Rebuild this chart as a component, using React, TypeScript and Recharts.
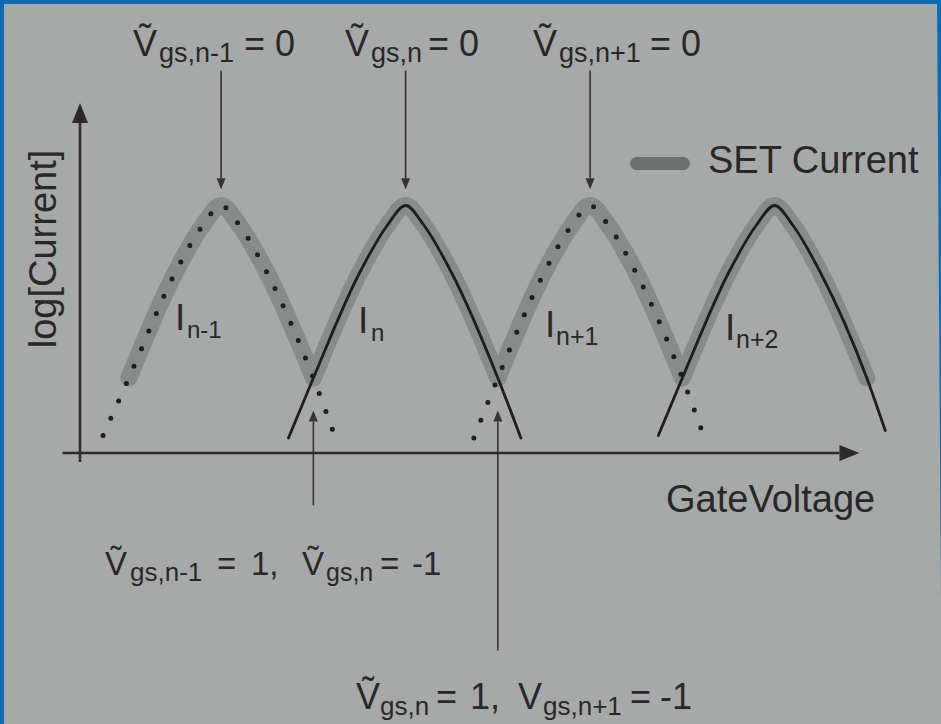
import React from 'react';
import { LineChart, Line, XAxis, YAxis, ReferenceLine, Legend } from 'recharts';

// Gate voltage (arbitrary units) and log[Current] for each single-electron current branch
const gateVoltageNm1 = [-0.28, 0, 0.5, 0.8, 1, 1.2, 1.5, 2, 2.24];
const logCurrentNm1 = [0.7, 3.0, 7.2, 9.1, 9.9, 9.1, 7.2, 3.0, 0.6];
const gateVoltageN = [1.73, 2, 2.5, 2.8, 3, 3.2, 3.5, 4, 4.25];
const logCurrentN = [0.6, 3.0, 7.2, 9.1, 9.9, 9.1, 7.2, 3.0, 0.6];
const gateVoltageNp1 = [3.74, 4, 4.5, 4.8, 5, 5.2, 5.5, 6, 6.24];
const logCurrentNp1 = [0.6, 3.0, 7.2, 9.1, 9.9, 9.1, 7.2, 3.0, 0.6];
const gateVoltageNp2 = [5.74, 6, 6.5, 6.8, 7, 7.2, 7.5, 8, 8.2];
const logCurrentNp2 = [0.7, 3.0, 7.2, 9.1, 9.9, 9.1, 7.2, 3.0, 0.9];

// Peak positions (Vgs = 0 of each branch) and crossing points between branches
const peakVoltages = [1, 3, 5, 7];
const crossingVoltages = [2, 4];
const branchNames = ['I n-1', 'I n', 'I n+1', 'I n+2'];
const branchDotted = [true, false, true, false];

const X_DOMAIN: [number, number] = [-0.53, 8.36];
const Y_DOMAIN: [number, number] = [0, 14];

const INK = '#282828';
const FONT = '"Liberation Sans", Arial, Helvetica, "DejaVu Sans", sans-serif';
const SET_GREY = '#878b89';

const toPoints = (v: number[], y: number[]) => v.map((x, i) => ({ v: x, logI: y[i] }));

const branches = [
  toPoints(gateVoltageNm1, logCurrentNm1),
  toPoints(gateVoltageN, logCurrentN),
  toPoints(gateVoltageNp1, logCurrentNp1),
  toPoints(gateVoltageNp2, logCurrentNp2),
];

// The SET current follows each branch between its two neighbouring crossings
const setSegments = branches.map((pts, i) =>
  pts.filter((p) => p.v >= peakVoltages[i] - 1 - 1e-9 && p.v <= peakVoltages[i] + 1 + 1e-9)
);

function arrowShape(headLen: number, headHalf: number, width: number, color: string) {
  return (props: any) => {
    const { x1, y1, x2, y2 } = props;
    const dx = x2 - x1;
    const dy = y2 - y1;
    const len = Math.hypot(dx, dy) || 1;
    const ux = dx / len;
    const uy = dy / len;
    const bx = x2 - ux * headLen;
    const by = y2 - uy * headLen;
    const px = -uy;
    const py = ux;
    return (
      <g>
        <line x1={x1} y1={y1} x2={bx} y2={by} stroke={color} strokeWidth={width} />
        <polygon
          points={`${x2},${y2} ${bx + px * headHalf},${by + py * headHalf} ${bx - px * headHalf},${by - py * headHalf}`}
          fill={color}
        />
      </g>
    );
  };
}

const axisArrow = arrowShape(20, 8, 2.6, '#2e2929');
const noteArrow = arrowShape(11, 4.5, 1.6, '#333333');

type Piece = { t: string; x: number; y: number; s: number };

const noteTop1: Piece[] = [
  { t: 'Ṽ', x: 133, y: 56, s: 36 },
  { t: 'gs,n-1', x: 159, y: 62, s: 27 },
  { t: '= 0', x: 244, y: 56, s: 36 },
];
const noteTop2: Piece[] = [
  { t: 'Ṽ', x: 345, y: 56, s: 36 },
  { t: 'gs,n', x: 371, y: 62, s: 27 },
  { t: '= 0', x: 428, y: 56, s: 36 },
];
const noteTop3: Piece[] = [
  { t: 'Ṽ', x: 533, y: 56, s: 36 },
  { t: 'gs,n+1', x: 559, y: 62, s: 27 },
  { t: '= 0', x: 650, y: 56, s: 36 },
];
const noteBottom1: Piece[] = [
  { t: 'Ṽ', x: 105, y: 575, s: 33 },
  { t: 'gs,n-1', x: 130, y: 581, s: 26 },
  { t: '=', x: 217, y: 575, s: 33 },
  { t: '1,', x: 251, y: 575, s: 33 },
  { t: 'Ṽ', x: 302, y: 575, s: 33 },
  { t: 'gs,n', x: 326, y: 581, s: 25 },
  { t: '=', x: 380, y: 575, s: 33 },
  { t: '-1', x: 412, y: 575, s: 33 },
];
const noteBottom2: Piece[] = [
  { t: 'Ṽ', x: 356, y: 709, s: 36 },
  { t: 'gs,n', x: 380, y: 715, s: 26 },
  { t: '=', x: 436, y: 709, s: 36 },
  { t: '1,', x: 470, y: 709, s: 36 },
  { t: 'V', x: 518, y: 709, s: 36 },
  { t: 'gs,n+1', x: 543, y: 715, s: 26 },
  { t: '=', x: 630, y: 709, s: 36 },
  { t: '-1', x: 660, y: 709, s: 36 },
];
const branchLabels: Piece[] = [
  { t: 'I', x: 175, y: 330, s: 37 },
  { t: 'n-1', x: 187, y: 338, s: 24 },
  { t: 'I', x: 358, y: 333, s: 37 },
  { t: 'n', x: 371, y: 341, s: 24 },
  { t: 'I', x: 545, y: 337, s: 37 },
  { t: 'n+1', x: 556, y: 345, s: 25 },
  { t: 'I', x: 725, y: 340, s: 37 },
  { t: 'n+2', x: 736, y: 348, s: 25 },
];

const Pieces = ({ items }: { items: Piece[] }) => (
  <>
    {items.map((p, i) => (
      <text key={i} x={p.x} y={p.y} fontSize={p.s} fill={INK} fontFamily={FONT}>
        {p.t}
      </text>
    ))}
  </>
);

const LegendContent = (props: any) => {
  const item = (props.payload || []).find((p: any) => p.value === 'SET Current');
  return (
    <svg width={300} height={46} style={{ display: 'block' }}>
      <rect x={2} y={17} width={60} height={13} rx={6.5} fill="#6d706f" />
      <text x={80} y={33} fontSize={38} fill={INK} fontFamily={FONT}>
        {item ? item.value : 'SET Current'}
      </text>
    </svg>
  );
};

export default function App() {
  return (
    <div
      style={{
        position: 'absolute',
        left: 0,
        top: 0,
        width: 941,
        height: 724,
        overflow: 'hidden',
        background: '#a7a9a8',
      }}
    >
      <LineChart width={941} height={724} margin={{ top: 103, right: 41, bottom: 271, left: 80 }}>
        <XAxis dataKey="v" type="number" domain={X_DOMAIN} allowDataOverflow hide />
        <YAxis type="number" domain={Y_DOMAIN} allowDataOverflow hide />
        <Legend
          layout="vertical"
          align="center"
          verticalAlign="middle"
          wrapperStyle={{ left: 628, top: 140, width: 300, height: 46 }}
          content={LegendContent}
        />

        {/* measured SET current: thick grey band along the upper envelope */}
        {setSegments.map((seg, i) => (
          <Line
            key={`set-${i}`}
            data={seg}
            dataKey="logI"
            type="monotone"
            name="SET Current"
            legendType={i === 0 ? 'line' : 'none'}
            stroke={SET_GREY}
            strokeWidth={17}
            strokeLinecap="round"
            strokeLinejoin="round"
            dot={false}
            activeDot={false}
            isAnimationActive={false}
          />
        ))}

        {/* individual branch currents */}
        {branches.map((pts, i) => (
          <Line
            key={`branch-${i}`}
            data={pts}
            dataKey="logI"
            type="monotone"
            name={branchNames[i]}
            legendType="none"
            stroke="#1e1e1e"
            strokeWidth={branchDotted[i] ? 5 : 2.8}
            strokeDasharray={branchDotted[i] ? '0 19' : undefined}
            strokeLinecap="round"
            dot={false}
            activeDot={false}
            isAnimationActive={false}
          />
        ))}

        {/* axes with arrow heads */}
        <ReferenceLine
          segment={[{ x: -0.72, y: 0 }, { x: 7.92, y: 0 }]}
          ifOverflow="visible"
          shape={axisArrow}
        />
        <ReferenceLine
          segment={[{ x: -0.53, y: -0.36 }, { x: -0.53, y: 14 }]}
          ifOverflow="visible"
          shape={axisArrow}
        />

        {/* arrows to the peaks (Vgs = 0) */}
        {peakVoltages.slice(0, 3).map((v, i) => (
          <ReferenceLine
            key={`pk-${i}`}
            segment={[{ x: v, y: 15.3 }, { x: v, y: 10.55 }]}
            ifOverflow="visible"
            shape={noteArrow}
          />
        ))}

        {/* arrows to the crossings between neighbouring branches */}
        {crossingVoltages.map((v, i) => (
          <ReferenceLine
            key={`cr-${i}`}
            segment={[{ x: v, y: i === 0 ? -2.1 : -7.9 }, { x: v, y: 1.7 }]}
            ifOverflow="visible"
            shape={noteArrow}
          />
        ))}
      </LineChart>

      <svg
        width={941}
        height={724}
        style={{ position: 'absolute', left: 0, top: 0, pointerEvents: 'none' }}
      >
        <text
          x={56}
          y={249}
          fontSize={38}
          textAnchor="middle"
          fill={INK}
          fontFamily={FONT}
          transform="rotate(-90 56 249)"
        >
          log[Current]
        </text>
        <text x={666} y={512} fontSize={38} fill={INK} fontFamily={FONT}>
          GateVoltage
        </text>
        <Pieces items={noteTop1} />
        <Pieces items={noteTop2} />
        <Pieces items={noteTop3} />
        <Pieces items={noteBottom1} />
        <Pieces items={noteBottom2} />
        <Pieces items={branchLabels} />
        <polygon points="937,0 941,0 941,600" fill="#0d6bb5" />
      </svg>

      <div style={{ position: 'absolute', left: 0, top: 0, width: 941, height: 4, background: '#0d6bb5' }} />
      <div style={{ position: 'absolute', left: 0, top: 0, width: 4, height: 724, background: '#0d6bb5' }} />
    </div>
  );
}
